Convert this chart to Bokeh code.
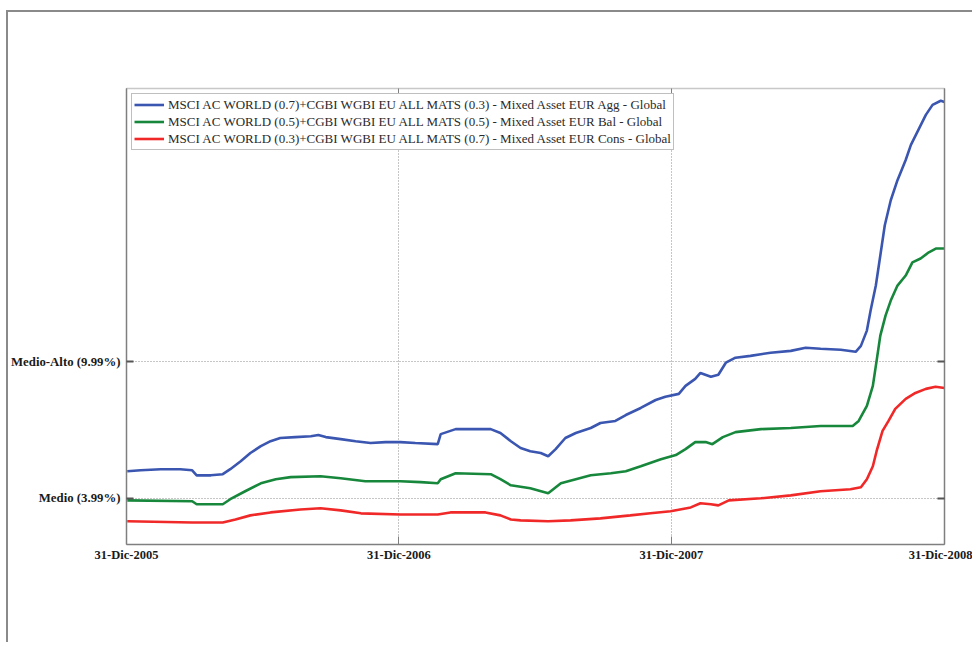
import pandas as pd
from datetime import datetime
from bokeh.plotting import figure
from bokeh.models import Range1d, FixedTicker, LinearAxis, DatetimeAxis, Spacer
from bokeh.layouts import column
from bokeh.embed import file_html
from bokeh.resources import INLINE

series_names = [
    "MSCI AC WORLD (0.7)+CGBI WGBI EU ALL MATS (0.3) - Mixed Asset EUR Agg - Global",
    "MSCI AC WORLD (0.5)+CGBI WGBI EU ALL MATS (0.5) - Mixed Asset EUR Bal - Global",
    "MSCI AC WORLD (0.3)+CGBI WGBI EU ALL MATS (0.7) - Mixed Asset EUR Cons - Global",
]
series_colors = ["#3a56b0", "#17873c", "#f02828"]

agg_dates = ["2006-01-01", "2006-01-19", "2006-02-15", "2006-03-13", "2006-03-29", "2006-04-04",
             "2006-04-23", "2006-05-09", "2006-05-19", "2006-06-02", "2006-06-15", "2006-06-29",
             "2006-07-12", "2006-07-25", "2006-08-14", "2006-09-04", "2006-09-14", "2006-09-24",
             "2006-10-14", "2006-11-03", "2006-11-23", "2006-12-13", "2007-01-02", "2007-01-22",
             "2007-02-21", "2007-02-25", "2007-03-17", "2007-04-06", "2007-05-03", "2007-05-16",
             "2007-05-30", "2007-06-12", "2007-06-25", "2007-07-09", "2007-07-19", "2007-07-29",
             "2007-08-11", "2007-08-25", "2007-09-14", "2007-09-27", "2007-10-17", "2007-10-31",
             "2007-11-20", "2007-12-10", "2007-12-23", "2008-01-10", "2008-01-19", "2008-02-01",
             "2008-02-08", "2008-02-22", "2008-03-03", "2008-03-13", "2008-03-26", "2008-04-15",
             "2008-05-12", "2008-06-08", "2008-06-28", "2008-07-18", "2008-08-14", "2008-09-03",
             "2008-09-10", "2008-09-18", "2008-09-23", "2008-09-30", "2008-10-06", "2008-10-12",
             "2008-10-20", "2008-10-29", "2008-11-09", "2008-11-16", "2008-11-26", "2008-12-06",
             "2008-12-15", "2008-12-26", "2008-12-31"]
agg_values = [5.18, 5.22, 5.27, 5.27, 5.22, 5.00,
              5.00, 5.05, 5.27, 5.62, 5.98, 6.28,
              6.50, 6.64, 6.68, 6.72, 6.77, 6.68,
              6.59, 6.50, 6.42, 6.46, 6.46, 6.42,
              6.37, 6.81, 7.03, 7.03, 7.03, 6.86,
              6.50, 6.20, 6.06, 5.98, 5.84, 6.15,
              6.64, 6.86, 7.08, 7.30, 7.39, 7.65,
              7.96, 8.31, 8.45, 8.58, 8.93, 9.24,
              9.50, 9.33, 9.42, 9.95, 10.17, 10.25,
              10.39, 10.47, 10.61, 10.56, 10.52, 10.43,
              10.69, 11.36, 12.24, 13.34, 14.66, 15.99,
              17.09, 17.97, 18.86, 19.52, 20.18, 20.84,
              21.28, 21.46, 21.41]

bal_dates = ["2006-01-01", "2006-03-29", "2006-04-04", "2006-05-09", "2006-05-19", "2006-06-08",
             "2006-06-29", "2006-07-19", "2006-08-08", "2006-09-17", "2006-10-14", "2006-11-16",
             "2007-01-02", "2007-01-29", "2007-02-21", "2007-02-25", "2007-03-17", "2007-05-03",
             "2007-05-16", "2007-05-30", "2007-06-25", "2007-07-19", "2007-08-05", "2007-08-25",
             "2007-09-14", "2007-10-11", "2007-10-31", "2007-11-20", "2007-12-17", "2008-01-06",
             "2008-01-19", "2008-02-01", "2008-02-15", "2008-02-24", "2008-03-09", "2008-03-26",
             "2008-04-29", "2008-06-08", "2008-07-18", "2008-08-30", "2008-09-07", "2008-09-18",
             "2008-09-26", "2008-10-02", "2008-10-06", "2008-10-13", "2008-10-20", "2008-10-29",
             "2008-11-09", "2008-11-18", "2008-11-29", "2008-12-10", "2008-12-20", "2008-12-31"]
bal_values = [3.90, 3.86, 3.73, 3.73, 3.95, 4.30,
              4.65, 4.83, 4.92, 4.96, 4.87, 4.74,
              4.74, 4.70, 4.65, 4.83, 5.09, 5.05,
              4.83, 4.56, 4.43, 4.21, 4.65, 4.83,
              5.00, 5.09, 5.18, 5.40, 5.71, 5.89,
              6.15, 6.46, 6.46, 6.37, 6.68, 6.90,
              7.03, 7.08, 7.17, 7.17, 7.39, 8.05,
              8.93, 10.25, 11.14, 12.02, 12.68, 13.34,
              13.78, 14.36, 14.53, 14.80, 14.97, 14.97]

cons_dates = ["2006-01-01", "2006-03-29", "2006-05-09", "2006-05-26", "2006-06-15", "2006-07-12",
              "2006-08-21", "2006-09-17", "2006-10-14", "2006-11-10", "2007-01-02", "2007-02-21",
              "2007-03-10", "2007-04-26", "2007-05-16", "2007-05-30", "2007-06-12", "2007-07-19",
              "2007-08-18", "2007-09-27", "2007-11-06", "2007-12-03", "2007-12-30", "2008-01-26",
              "2008-02-08", "2008-02-22", "2008-03-03", "2008-03-17", "2008-04-29", "2008-06-08",
              "2008-07-18", "2008-08-27", "2008-09-10", "2008-09-18", "2008-09-26", "2008-10-01",
              "2008-10-09", "2008-10-17", "2008-10-26", "2008-11-09", "2008-11-22", "2008-12-06",
              "2008-12-19", "2008-12-31"]
cons_values = [2.98, 2.93, 2.93, 3.06, 3.24, 3.37,
               3.50, 3.55, 3.46, 3.33, 3.28, 3.28,
               3.37, 3.37, 3.24, 3.06, 3.02, 2.98,
               3.02, 3.11, 3.24, 3.33, 3.42, 3.59,
               3.77, 3.73, 3.68, 3.90, 3.99, 4.12,
               4.30, 4.39, 4.48, 4.83, 5.40, 6.06,
               6.95, 7.39, 7.92, 8.36, 8.62, 8.80,
               8.89, 8.84]

y_ticks = [3.99, 9.99]
y_tick_labels = ["Medio (3.99%)", "Medio-Alto (9.99%)"]
x_ticks = ["2005-12-31", "2006-12-31", "2007-12-31", "2008-12-31"]
x_tick_labels = ["31-Dic-2005", "31-Dic-2006", "31-Dic-2007", "31-Dic-2008"]

def ms(s):
    return (datetime.strptime(s, "%Y-%m-%d") - datetime(1970, 1, 1)).total_seconds() * 1000.0

x_tick_ms = [ms(s) for s in x_ticks]

FONT = "Liberation Serif"
AX = "#7f7f7f"

p = figure(width=966, height=632, x_axis_type="datetime",
           x_range=Range1d(x_tick_ms[0], x_tick_ms[-1]), y_range=Range1d(1.96, 22.0),
           output_backend="svg", toolbar_location=None,
           min_border_left=116, min_border_right=30, min_border_top=76, min_border_bottom=100)
p.outline_line_color = None
p.background_fill_color = "white"
p.border_fill_color = "white"
p.styles = {"border-left": "2px solid #8a8a8a", "border-top": "2px solid #8a8a8a",
            "margin-left": "6px"}

all_data = [(agg_dates, agg_values), (bal_dates, bal_values), (cons_dates, cons_values)]
for (d, v), name, col in zip(all_data, series_names, series_colors):
    p.line(pd.to_datetime(d), v, line_color=col, line_width=2.6, legend_label=name)

# bottom axis
xa = p.xaxis[0]
xa.ticker = FixedTicker(ticks=x_tick_ms)
xa.major_label_overrides = {t: l for t, l in zip(x_tick_ms, x_tick_labels)}
xa.major_tick_in = 8
xa.major_tick_out = 0
xa.minor_tick_line_color = None
xa.axis_line_color = AX
xa.axis_line_width = 1.5
xa.major_tick_line_color = AX
xa.major_label_standoff = 3
xa.major_label_text_font = FONT
xa.major_label_text_font_style = "bold"
xa.major_label_text_font_size = "12.5px"
xa.major_label_text_color = "#1a1a1a"

# left axis
ya = p.yaxis[0]
ya.ticker = FixedTicker(ticks=y_ticks)
ya.major_label_overrides = {t: l for t, l in zip(y_ticks, y_tick_labels)}
ya.major_tick_in = 7
ya.major_tick_out = 0
ya.minor_tick_line_color = None
ya.axis_line_color = AX
ya.axis_line_width = 1.5
ya.major_tick_line_color = "#555555"
ya.major_tick_line_width = 2
ya.major_label_standoff = 6
ya.major_label_text_font = FONT
ya.major_label_text_font_style = "bold"
ya.major_label_text_font_size = "12.8px"
ya.major_label_text_color = "#1a1a1a"

# right axis
ra = LinearAxis(ticker=FixedTicker(ticks=y_ticks), major_tick_in=7, major_tick_out=0,
                minor_tick_line_color=None, axis_line_color=AX, axis_line_width=1.5,
                major_tick_line_color="#555555", major_tick_line_width=2,
                major_label_text_font_size="0px", major_label_text_color=None)
p.add_layout(ra, "right")

# top axis
ta = DatetimeAxis(ticker=FixedTicker(ticks=x_tick_ms), major_tick_in=8, major_tick_out=0,
                  minor_tick_line_color=None, axis_line_color="#c8c8c8", axis_line_width=1.5,
                  major_tick_line_color=AX, major_label_text_font_size="0px",
                  major_label_text_color=None)
p.add_layout(ta, "above")

p.xgrid.ticker = FixedTicker(ticks=x_tick_ms)
p.ygrid.ticker = FixedTicker(ticks=y_ticks)
for g in (p.xgrid, p.ygrid):
    g.grid_line_color = "#8c8c8c"
    g.grid_line_dash = "1 2"
    g.grid_line_width = 1

lg = p.legend[0]
lg.location = "top_left"
lg.margin = 5
lg.padding = 2
lg.spacing = 0
lg.border_line_color = AX
lg.border_line_width = 1.5
lg.label_text_font = FONT
lg.label_text_font_size = "13px"
lg.label_text_color = "#2a2a2a"
lg.label_height = 17
lg.glyph_height = 17
lg.glyph_width = 30
lg.label_standoff = 4
lg.background_fill_alpha = 1.0

layout = column(Spacer(height=10), p)
open("out.html", "w").write(file_html(layout, INLINE))
